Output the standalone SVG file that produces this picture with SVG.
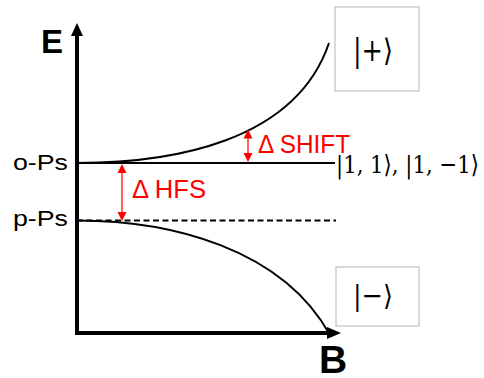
<svg xmlns="http://www.w3.org/2000/svg" width="484" height="378" viewBox="0 0 484 378">
<style>
.lbl{font-family:"Liberation Sans","DejaVu Sans",sans-serif;fill:#000}
.ax{font-family:"Liberation Sans","DejaVu Sans",sans-serif;font-weight:bold;fill:#000}
.red{font-family:"Liberation Sans","DejaVu Sans",sans-serif;fill:#ff0000;font-size:26px}
.math{font-family:"DejaVu Serif","Liberation Serif",serif;fill:#000}
.box{fill:#fff;stroke:#c0c0c0;stroke-width:1.2}
.curve{fill:none;stroke:#000;stroke-width:2}
.rarr{stroke:#ff0000;stroke-width:1.2;fill:none}
</style>
<rect width="484" height="378" fill="#fff"/>
<g id="axes">
<line x1="77" y1="33" x2="77" y2="333" stroke="#000" stroke-width="4"/>
<line x1="75" y1="333" x2="329" y2="333" stroke="#000" stroke-width="4"/>
<polygon points="77,23 71,36 83,36" fill="#000"/>
<polygon points="341,333 327,327 327,339" fill="#000"/>
<text class="ax" x="41" y="53" font-size="33">E</text>
<text class="ax" x="319" y="373" font-size="39">B</text>
</g>
<g id="o-Ps">
<text class="lbl" x="13" y="170" font-size="22" textLength="55" lengthAdjust="spacingAndGlyphs">o-Ps</text>
</g>
<g id="p-Ps">
<text class="lbl" x="13" y="226" font-size="22" textLength="55" lengthAdjust="spacingAndGlyphs">p-Ps</text>
</g>
<g id="connectors">
<line x1="77" y1="163" x2="335" y2="163" stroke="#000" stroke-width="2"/>
<line x1="77" y1="220.5" x2="336" y2="220.5" stroke="#000" stroke-width="2" stroke-dasharray="6,3.5"/>
<path class="curve" d="M77,163 C170,163 295,143 329,43"/>
<path class="curve" d="M77,220.5 C170,220.5 282,248 330,335"/>
<line class="rarr" x1="122" y1="172" x2="122" y2="212"/>
<polygon points="122,164 117.5,173 126.5,173" fill="#ff0000"/>
<polygon points="122,221 117.5,212 126.5,212" fill="#ff0000"/>
<line class="rarr" x1="248" y1="138" x2="248" y2="154"/>
<polygon points="248,129.5 243.5,138.5 252.5,138.5" fill="#ff0000"/>
<polygon points="248,162 243.5,153 252.5,153" fill="#ff0000"/>
</g>
<g id="hfs">
<text class="red" x="132" y="198" textLength="74" lengthAdjust="spacingAndGlyphs">Δ HFS</text>
</g>
<g id="shift">
<text class="red" x="258" y="153" textLength="92" lengthAdjust="spacingAndGlyphs">Δ SHIFT</text>
</g>
<g id="triplet">
<text class="math" x="336" y="173" font-size="25" textLength="143" lengthAdjust="spacingAndGlyphs">|1, 1⟩, |1, −1⟩</text>
</g>
<g id="plus">
<rect class="box" x="335" y="7" width="84" height="84"/>
<text class="math" x="353" y="61" font-size="31" textLength="40" lengthAdjust="spacingAndGlyphs">|+⟩</text>
</g>
<g id="minus">
<rect class="box" x="336" y="267" width="83" height="59"/>
<text class="math" x="353" y="305" font-size="28" textLength="40" lengthAdjust="spacingAndGlyphs">|−⟩</text>
</g>
</svg>
